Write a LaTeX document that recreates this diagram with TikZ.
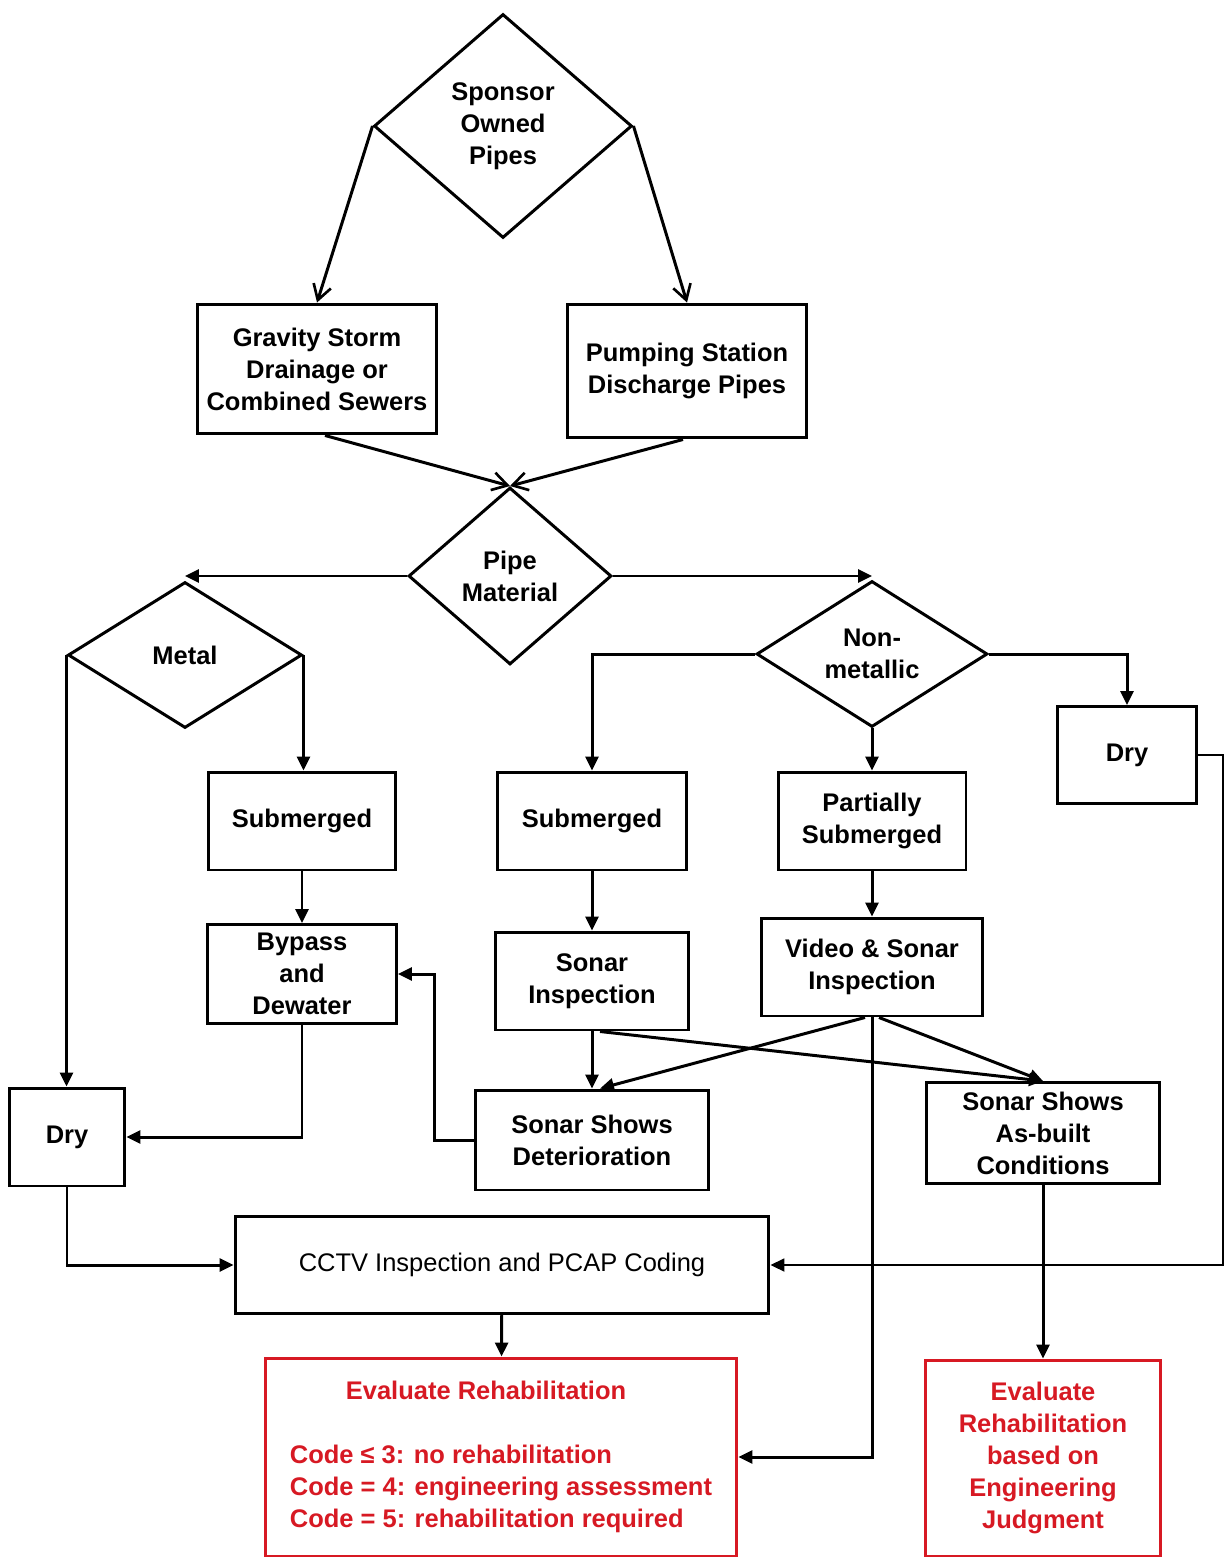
\documentclass[tikz,border=0pt]{standalone}
\usepackage{fontspec}
\setmainfont{Liberation Sans}
\usepackage{tikz}
\usetikzlibrary{positioning, arrows.meta, shapes.geometric}

\definecolor{evalred}{RGB}{215,25,35}

\begin{document}
\begin{tikzpicture}[
    x={(0.02cm,0cm)}, y={(0cm,-0.02cm)},
    line width=1.7pt,
    flow/.style={-{Triangle[length=2.8mm, width=2.6mm]}},
    openflow/.style={-{Straight Barb[length=3mm, width=3.6mm, line width=1.5pt]}},
    txt/.style={font=\bfseries\fontsize{14.5}{18.2}\selectfont, align=center, inner sep=0pt},
    box/.style={txt, draw, rectangle},
    decision/.style={txt, draw, diamond, aspect=1},
    evalbox/.style={txt, draw=evalred, text=evalred, rectangle},
    wh/.style 2 args={minimum width=#1cm, minimum height=#2cm}
]

% Page frame
\useasboundingbox (0,0) rectangle (1225,1558);
\fill[white] (0,0) rectangle (1225,1558);

% Top of the chart
\node[decision, wh={5.16}{4.48}] (sponsor) at (503,126) {Sponsor\\Owned\\Pipes};
\node[box, wh={4.8}{2.6}] (gravity) at (317,369) {Gravity Storm\\Drainage or\\Combined Sewers};
\node[box, wh={4.8}{2.68}] (pumping) at (687,371) {Pumping Station\\Discharge Pipes};

% Material split
\node[decision, wh={4.06}{3.54}] (pipe) at (510,576) {Pipe\\Material};
\node[decision, wh={4.68}{2.92}] (metal) at (185,655) {Metal};
\node[decision, wh={4.62}{2.92}] (nonmetal) at (872,654) {Non-\\metallic};

% Metal branch
\node[box, wh={3.76}{1.96}] (subA) at (302,821) {Submerged};
\node[box, wh={3.78}{1.98}] (bypass) at (302,974) {Bypass\\and\\Dewater};
\node[box, wh={2.32}{1.96}] (dryA) at (67,1137) {Dry};

% Non-metallic branch
\node[box, wh={3.8}{1.96}] (subB) at (592,821) {Submerged};
\node[box, wh={3.76}{1.96}] (partial) at (872,821) {Partially\\Submerged};
\node[box, wh={2.78}{1.94}] (dryB) at (1127,755) {Dry};
\node[box, wh={3.88}{1.96}] (sonar) at (592,981) {Sonar\\Inspection};
\node[box, wh={4.42}{1.96}] (video) at (872,967) {Video \& Sonar\\Inspection};
\node[box, wh={4.66}{2.0}] (deter) at (592,1140) {Sonar Shows\\Deterioration};
\node[box, wh={4.68}{2.02}] (asbuilt) at (1043,1133) {Sonar Shows\\As-built\\Conditions};

% Inspection and evaluation
\node[box, wh={10.68}{1.94}, font=\fontsize{14.5}{18.2}\selectfont] (cctv) at (502,1265) {CCTV Inspection and PCAP Coding};
\node[evalbox, wh={9.44}{3.96}, align=left] (evalA) at (501,1457)
    {\hspace*{1.12cm}Evaluate Rehabilitation\\[0.64cm]Code ≤ 3: no rehabilitation\\Code = 4: engineering assessment\\Code = 5: rehabilitation required};
\node[evalbox, wh={4.72}{3.92}] (evalB) at (1043,1458) {Evaluate\\Rehabilitation\\based on\\Engineering\\Judgment};

% Open arrows at the top
\draw[openflow] (sponsor.west) -- (gravity.north);
\draw[openflow] (sponsor.east) -- (pumping.north);
\draw[openflow] ([xshift=0.16cm]gravity.south) -- (pipe.north);
\draw[openflow] ([xshift=-0.08cm]pumping.south) -- (pipe.north);

% Material split
\draw[flow] (pipe.west) -- (pipe.west -| metal.north);
\draw[flow] (pipe.east) -- (pipe.east -| nonmetal.north);

% Metal branch
\draw[flow] (metal.east) -- (subA.north -| metal.east);
\draw[flow] (metal.west) -- (dryA.north -| metal.west);
\draw[flow] (subA) -- (bypass);
\draw[flow] (bypass.south) |- (dryA.east);

% Non-metallic branch
\draw[flow] (nonmetal.west) -| (subB.north);
\draw[flow] (nonmetal.south) -- (partial.north);
\draw[flow] (nonmetal.east) -| (dryB.north);
\draw[flow] (subB) -- (sonar);
\draw[flow] (partial) -- (video);
\draw[flow] (sonar.south) -- (deter.north);
\draw[flow] ([xshift=0.16cm]sonar.south) -- (asbuilt.north);
\draw[flow] ([xshift=-0.14cm]video.south) -- ([xshift=0.16cm]deter.north);
\draw[flow] ([xshift=0.14cm]video.south) -- (asbuilt.north);
\draw[flow] (video.south) |- (evalA.east);
\draw[flow] (deter.west) -- ++(-40,0) |- (bypass.east);

% Into CCTV and evaluation
\draw[flow] (dryA.south) |- (cctv.west);
\draw[flow, line width=1pt] (dryB.east) -- ++(25,0) |- (cctv.east);
\draw[flow] (cctv) -- (evalA);
\draw[flow] (asbuilt) -- (evalB);

\end{tikzpicture}
\end{document}
